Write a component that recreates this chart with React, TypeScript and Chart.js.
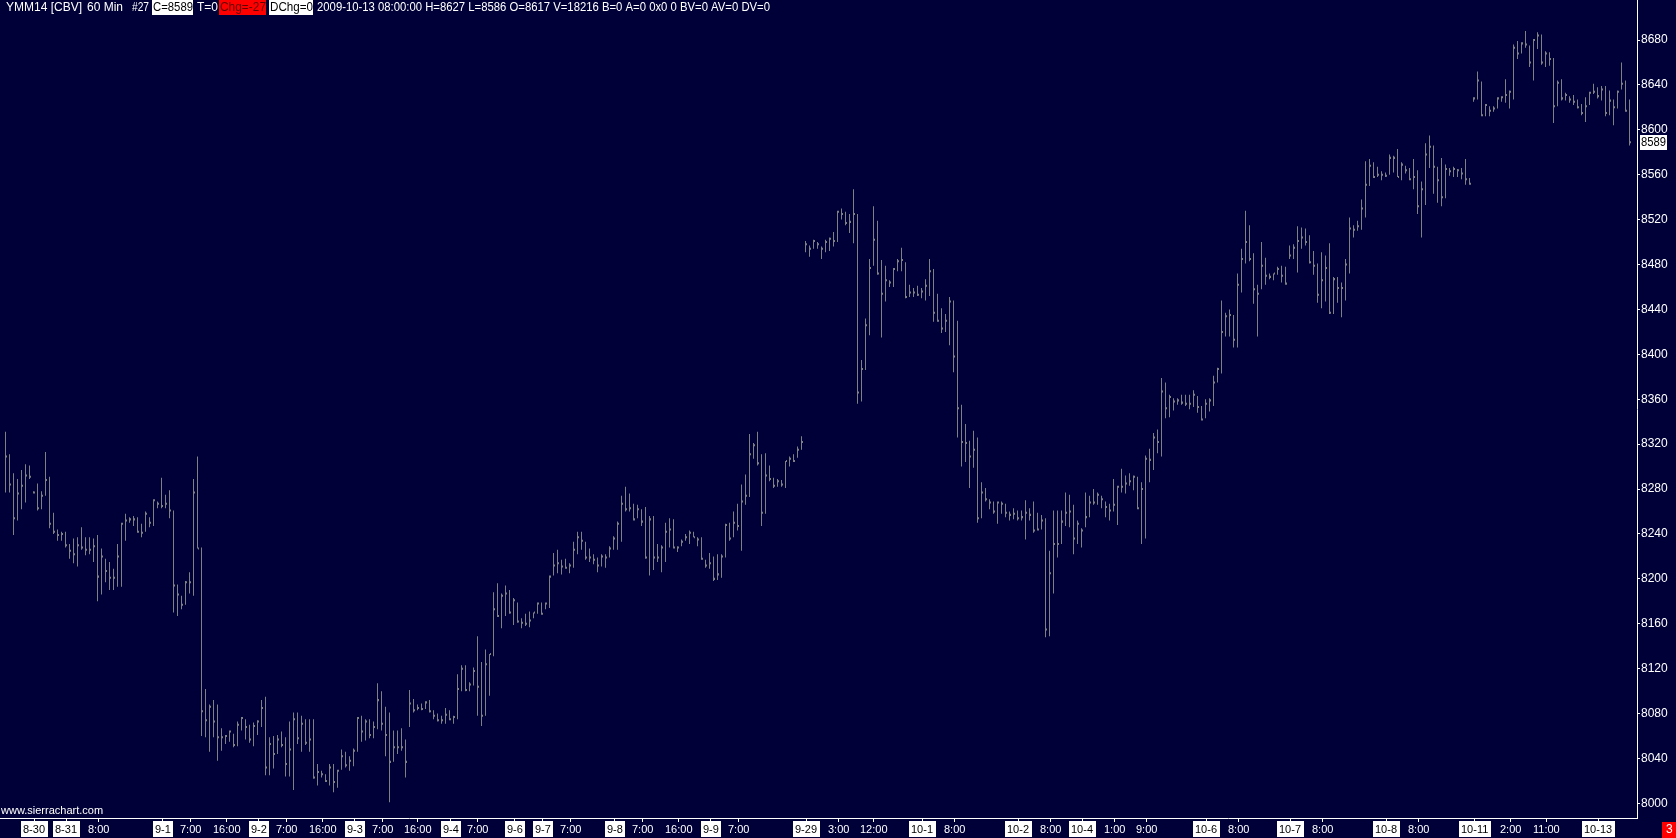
import { useEffect, useRef } from "react";
import { Chart, registerables } from "chart.js";
Chart.register(...registerables);

// ---- data (hourly bars: high / low / close) ----
const highs = [
8331,8311,8294,8289,8297,8302,8301,8278,8285,8278,8313,8291,8259,8244,8242,8242,8231,8236,8237,8246,
8237,8237,8236,8239,8227,8218,8215,8209,8231,8250,8258,8255,8256,8255,8249,8260,8255,8271,8269,8290,
8275,8279,8261,8195,8185,8198,8206,8289,8309,8228,8102,8088,8092,8088,8067,8061,8065,8062,8073,8077,
8075,8070,8072,8074,8092,8095,8059,8060,8061,8064,8059,8073,8081,8081,8078,8075,8075,8075,8035,8029,
8026,8035,8035,8030,8048,8046,8042,8049,8077,8078,8075,8075,8073,8107,8100,8086,8081,8065,8065,8067,
8057,8101,8093,8088,8089,8091,8092,8083,8080,8078,8085,8083,8078,8115,8123,8123,8108,8121,8149,8126,
8137,8133,8188,8196,8187,8194,8190,8183,8179,8165,8169,8171,8170,8179,8179,8179,8203,8223,8226,8217,
8218,8214,8233,8242,8242,8233,8227,8222,8219,8222,8222,8229,8238,8251,8274,8282,8276,8267,8266,8262,
8264,8256,8256,8231,8230,8250,8254,8253,8229,8235,8240,8243,8242,8237,8237,8217,8223,8220,8222,8222,
8249,8250,8260,8267,8284,8293,8329,8321,8331,8311,8312,8301,8290,8289,8288,8305,8309,8311,8318,8327,
8501,8497,8502,8500,8496,8502,8504,8509,8528,8530,8527,8525,8547,8525,8395,8432,8485,8532,8519,8484,
8479,8466,8477,8485,8495,8482,8462,8459,8461,8459,8467,8485,8476,8454,8441,8436,8451,8448,8430,8355,
8338,8323,8332,8326,8286,8281,8271,8269,8269,8269,8267,8260,8263,8261,8261,8270,8263,8269,8259,8257,
8254,8225,8261,8261,8261,8277,8275,8266,8252,8245,8277,8274,8280,8277,8274,8269,8267,8289,8283,8298,
8292,8294,8292,8291,8286,8310,8316,8330,8333,8379,8375,8364,8361,8361,8364,8364,8364,8368,8363,8354,
8360,8361,8381,8388,8448,8437,8440,8435,8472,8494,8528,8515,8490,8462,8500,8486,8472,8472,8478,8479,
8478,8497,8498,8514,8513,8512,8506,8492,8481,8491,8488,8499,8469,8469,8464,8485,8522,8515,8519,8538,
8572,8574,8571,8567,8563,8562,8578,8577,8583,8571,8568,8566,8574,8564,8554,8588,8595,8586,8567,8575,
8569,8566,8567,8565,8566,8574,8557,8629,8652,8643,8623,8621,8621,8629,8630,8645,8635,8676,8679,8678,
8688,8675,8681,8687,8685,8670,8669,8664,8644,8645,8633,8630,8631,8627,8623,8629,8634,8641,8638,8639,
8639,8635,8627,8635,8660,8644,8627
];
const lows = [
8277,8277,8239,8252,8262,8268,8289,8276,8261,8262,8274,8245,8240,8234,8234,8228,8218,8214,8211,8226,
8221,8222,8215,8180,8186,8197,8190,8190,8193,8193,8234,8250,8247,8241,8237,8242,8246,8247,8263,8263,
8263,8254,8170,8167,8173,8177,8187,8185,8227,8060,8059,8046,8059,8038,8047,8053,8055,8050,8051,8065,
8057,8054,8051,8061,8068,8025,8025,8031,8044,8050,8024,8024,8012,8053,8046,8052,8046,8022,8016,8023,
8019,8016,8010,8014,8030,8032,8029,8033,8046,8055,8056,8058,8058,8066,8065,8042,8001,8037,8044,8047,
8023,8068,8081,8083,8083,8084,8081,8075,8073,8071,8071,8074,8071,8075,8100,8100,8100,8105,8078,8069,
8078,8096,8131,8166,8156,8167,8169,8159,8161,8156,8158,8157,8165,8169,8168,8173,8174,8203,8205,8204,
8209,8205,8210,8222,8226,8217,8215,8213,8206,8211,8210,8219,8226,8226,8233,8260,8260,8252,8254,8247,
8218,8203,8208,8215,8206,8215,8228,8227,8224,8229,8234,8231,8237,8229,8217,8210,8209,8198,8199,8201,
8219,8234,8237,8243,8225,8266,8273,8307,8301,8247,8258,8287,8281,8282,8282,8281,8300,8304,8308,8315,
8491,8487,8494,8494,8485,8491,8492,8496,8500,8520,8515,8508,8499,8356,8358,8386,8417,8479,8471,8415,
8447,8460,8460,8474,8474,8450,8451,8451,8452,8450,8448,8452,8429,8429,8419,8420,8408,8384,8326,8300,
8304,8281,8299,8250,8254,8269,8262,8258,8249,8258,8255,8252,8253,8252,8252,8235,8252,8241,8243,8244,
8148,8149,8187,8219,8231,8247,8246,8222,8231,8228,8246,8255,8266,8266,8263,8255,8252,8260,8248,8277,
8276,8283,8279,8262,8231,8236,8286,8297,8312,8309,8343,8344,8350,8355,8355,8354,8351,8353,8348,8341,
8343,8349,8354,8375,8383,8416,8416,8406,8406,8455,8481,8483,8445,8416,8458,8462,8467,8466,8471,8464,
8462,8485,8485,8473,8494,8497,8481,8471,8446,8441,8447,8436,8436,8446,8433,8448,8472,8504,8510,8511,
8522,8550,8557,8558,8555,8558,8560,8562,8558,8555,8561,8555,8547,8525,8504,8533,8566,8543,8535,8532,
8539,8559,8558,8558,8556,8551,8551,8625,8627,8612,8612,8612,8616,8619,8625,8624,8619,8627,8663,8668,
8673,8656,8644,8672,8658,8656,8657,8606,8621,8626,8626,8624,8622,8619,8613,8607,8622,8632,8628,8626,
8612,8613,8604,8619,8636,8616,8586
];
const closes = [
8309,8284,8254,8276,8283,8292,8291,8277,8263,8274,8288,8249,8242,8239,8240,8230,8225,8222,8230,8228,
8226,8226,8229,8202,8220,8207,8201,8201,8220,8249,8252,8253,8253,8242,8241,8258,8250,8270,8267,8265,
8267,8261,8194,8186,8177,8197,8197,8277,8227,8082,8074,8086,8073,8059,8059,8060,8064,8052,8070,8076,
8068,8057,8069,8073,8085,8032,8053,8044,8057,8052,8035,8048,8075,8058,8071,8054,8057,8023,8028,8026,
8020,8032,8019,8029,8042,8034,8038,8047,8076,8064,8073,8061,8068,8092,8071,8061,8037,8050,8050,8050,
8037,8089,8083,8085,8084,8090,8082,8078,8074,8074,8079,8075,8077,8102,8120,8101,8106,8118,8104,8078,
8124,8133,8173,8167,8185,8187,8170,8181,8162,8161,8160,8163,8170,8178,8169,8178,8202,8212,8214,8211,
8210,8212,8226,8237,8234,8219,8219,8217,8212,8220,8219,8227,8236,8249,8267,8262,8263,8253,8262,8251,
8219,8253,8219,8219,8228,8242,8244,8228,8228,8233,8237,8241,8237,8235,8218,8212,8214,8200,8204,8220,
8248,8236,8250,8247,8269,8274,8311,8319,8303,8259,8292,8289,8283,8287,8284,8305,8307,8305,8315,8322,
8498,8494,8501,8498,8494,8500,8503,8501,8527,8525,8517,8518,8525,8366,8387,8426,8477,8502,8472,8454,
8466,8464,8476,8483,8484,8451,8455,8455,8453,8456,8461,8474,8437,8430,8423,8430,8447,8398,8352,8322,
8321,8309,8315,8254,8277,8271,8268,8260,8268,8267,8259,8257,8258,8254,8255,8259,8257,8243,8244,8252,
8155,8205,8231,8231,8251,8259,8260,8236,8249,8243,8255,8268,8268,8275,8271,8264,8261,8266,8282,8282,
8285,8287,8291,8263,8280,8307,8306,8326,8322,8367,8352,8362,8358,8359,8357,8356,8356,8364,8353,8342,
8356,8359,8375,8387,8420,8434,8435,8413,8462,8485,8500,8485,8458,8454,8479,8470,8469,8472,8476,8470,
8463,8488,8495,8501,8504,8500,8482,8479,8453,8466,8477,8437,8467,8459,8459,8480,8512,8511,8514,8530,
8551,8568,8558,8560,8560,8559,8575,8575,8558,8569,8564,8556,8558,8532,8547,8578,8585,8567,8555,8540,
8565,8563,8565,8564,8561,8556,8552,8628,8644,8613,8622,8617,8619,8628,8629,8631,8634,8673,8668,8677,
8676,8660,8680,8684,8660,8668,8663,8621,8642,8628,8631,8627,8625,8620,8615,8621,8633,8634,8630,8636,
8615,8626,8620,8634,8641,8617,8589
];

const yTickValues = [8000,8040,8080,8120,8160,8200,8240,8280,8320,8360,8400,8440,8480,8520,8560,8600,8640,8680];

const xLabelIndex = [7,15,23,39,46,55,63,70,79,87,94,103,111,118,127,134,141,152,159,168,176,183,200,208,217,229,237,253,261,269,277,285,300,308,321,329,345,353,367,376,385,398];
const xLabelText = ["8-30","8-31","8:00","9-1","7:00","16:00","9-2","7:00","16:00","9-3","7:00","16:00","9-4","7:00","9-6","9-7","7:00","9-8","7:00","16:00","9-9","7:00","9-29","3:00","12:00","10-1","8:00","10-2","8:00","10-4","1:00","9:00","10-6","8:00","10-7","8:00","10-8","8:00","10-11","2:00","11:00","10-13"];

const headerParts = [
  { text: "YMM14 [CBV]", x: 5, w: 80, bg: "", fg: "#ffffff" },
  { text: "60 Min", x: 86, w: 40, bg: "", fg: "#ffffff" },
  { text: "#27", x: 131, w: 18, bg: "", fg: "#ffffff" },
  { text: "C=8589", x: 152, w: 41, bg: "#ffffff", fg: "#000000" },
  { text: "T=0", x: 196, w: 22, bg: "", fg: "#ffffff" },
  { text: "Chg=-27", x: 219, w: 47, bg: "#ff0000", fg: "#600000" },
  { text: "DChg=0", x: 269, w: 44, bg: "#ffffff", fg: "#000000" },
  { text: "2009-10-13 08:00:00 H=8627 L=8586 O=8617 V=18216 B=0 A=0 0x0 0 BV=0 AV=0 DV=0", x: 316, w: 454, bg: "", fg: "#ffffff" },
];

const BG = "#000038";
const BAR = "#808080";
const FONT = "Liberation Sans, Arial, sans-serif";

const overlay = {
  id: "sierraOverlay",
  beforeDraw(chart: any) {
    const ctx = chart.ctx;
    ctx.save();
    ctx.fillStyle = BG;
    ctx.fillRect(0, 0, chart.width, chart.height);
    ctx.restore();
  },
  afterDraw(chart: any) {
    const ctx = chart.ctx;
    const xs = chart.scales.x;
    const ys = chart.scales.y;
    const area = chart.chartArea;
    ctx.save();
    // bottom axis line
    ctx.strokeStyle = "#ffffff";
    ctx.lineWidth = 1;
    ctx.beginPath();
    ctx.moveTo(0, area.bottom + 0.5);
    ctx.lineTo(area.right + 1, area.bottom + 0.5);
    ctx.stroke();
    // x labels
    ctx.font = `11px ${FONT}`;
    ctx.textBaseline = "middle";
    ctx.textAlign = "left";
    xLabelIndex.forEach((idx, k) => {
      const px = Math.round(xs.getPixelForValue(idx)) + 0.5;
      ctx.strokeStyle = "#ffffff";
      ctx.beginPath();
      ctx.moveTo(px, area.bottom);
      ctx.lineTo(px, area.bottom + 4);
      ctx.stroke();
      const t = xLabelText[k];
      const w = ctx.measureText(t).width;
      const isDate = t.indexOf("-") >= 0;
      const left = Math.round(px - w / 2);
      if (isDate) {
        ctx.fillStyle = "#ffffff";
        ctx.fillRect(left - 2, area.bottom + 3, Math.ceil(w) + 4, 16);
        ctx.fillStyle = "#000000";
      } else {
        ctx.fillStyle = "#ffffff";
      }
      ctx.fillText(t, left, area.bottom + 11.5);
    });
    // watermark
    ctx.fillStyle = "#ffffff";
    ctx.fillText("www.sierrachart.com", 1, area.bottom - 7);
    // header
    ctx.font = `12px ${FONT}`;
    headerParts.forEach((p) => {
      if (p.bg) {
        ctx.fillStyle = p.bg;
        ctx.fillRect(p.x, 0, p.w, 15);
      }
      ctx.fillStyle = p.fg;
      ctx.fillText(p.text, p.x + 1, 8, p.w - 1);
    });
    // last price marker
    const last = closes[closes.length - 1];
    const py = Math.round(ys.getPixelForValue(last));
    ctx.font = `12px ${FONT}`;
    ctx.fillStyle = "#ffffff";
    ctx.fillRect(area.right + 3, py - 7, 27, 15);
    ctx.fillStyle = "#000000";
    ctx.fillText(String(last), area.right + 4, py + 0.5, 25);
    // red counter box
    ctx.fillStyle = "#ff0000";
    ctx.fillRect(1662, area.bottom + 4, 14, 16);
    ctx.fillStyle = "#ffffff";
    ctx.fillText("3", 1666, area.bottom + 12);
    ctx.restore();
  },
};

export default function App() {
  const ref = useRef<HTMLCanvasElement>(null);
  useEffect(() => {
    document.body.style.margin = "0";
    document.body.style.background = BG;
    const canvas = ref.current!;
    const rangeData = highs.map((h, i) => ({ x: i, y: [lows[i], h] }));
    const closeData = closes.map((c, i) => ({ x: i + 0.25, y: [c - 0.9, c + 0.9] }));
    const chart = new Chart(canvas, {
      type: "bar",
      data: {
        datasets: [
          { data: rangeData as any, backgroundColor: BAR, barThickness: 1, grouped: false, borderWidth: 0, inflateAmount: 0 } as any,
          { data: closeData as any, backgroundColor: BAR, barThickness: 1, grouped: false, borderWidth: 0, inflateAmount: 0 } as any,
        ],
      },
      options: {
        animation: false,
        responsive: false,
        maintainAspectRatio: false,
        devicePixelRatio: 1,
        layout: { padding: { left: 0, top: 0, right: 0, bottom: 20 } },
        plugins: { legend: { display: false }, tooltip: { enabled: false } },
        scales: {
          x: { type: "linear", display: false, min: -1.375, max: 407.875, offset: false },
          y: {
            type: "linear",
            position: "right",
            min: 7987.0,
            max: 8715.63,
            afterBuildTicks: (s: any) => {
              s.ticks = yTickValues.map((v) => ({ value: v }));
            },
            afterFit: (s: any) => {
              s.width = 39;
              s.paddingTop = 0;
              s.paddingBottom = 0;
            },
            ticks: {
              color: "#ffffff",
              font: { family: FONT, size: 12 },
              padding: 1,
              callback: (v: any) => String(v),
            },
            grid: { drawOnChartArea: false, color: "#ffffff", tickLength: 3, tickWidth: 1 },
            border: { color: "#ffffff", width: 1 },
          },
        },
      } as any,
      plugins: [overlay],
    });
    return () => chart.destroy();
  }, []);
  return <canvas ref={ref} width={1676} height={838} style={{ display: "block" }} />;
}
